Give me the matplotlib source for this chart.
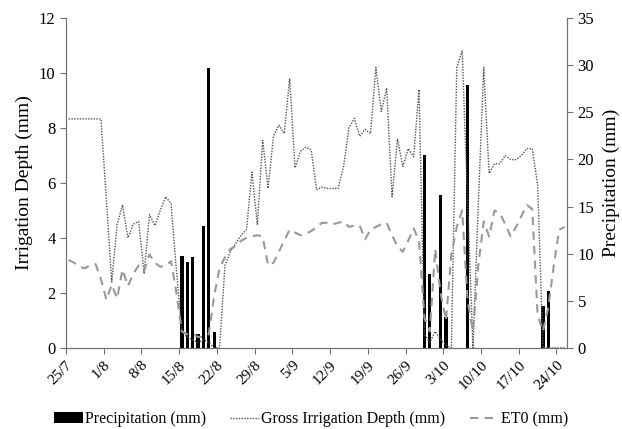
import matplotlib
matplotlib.use("Agg")
import matplotlib.pyplot as plt
import numpy as np

plt.rcParams['font.family'] = ['Liberation Serif', 'DejaVu Serif']

# daily series, 25/7 .. 25/10
irrigation = [
    8.33, 8.33, 8.33, 8.33, 8.33, 8.33, 8.33, 5.4, 2.4, 4.5,
    5.2, 4.0, 4.5, 4.6, 2.7, 4.85, 4.45, 5.0, 5.5, 5.25,
    2.8, 0.6, 0.4, 0.3, 0.2, 0.3, 0.2, 0.0, 0.0, 3.0,
    3.5, 3.8, 4.1, 4.3, 6.4, 4.5, 7.55, 5.8, 7.7, 8.1,
    7.8, 9.8, 6.55, 7.15, 7.3, 7.2, 5.75, 5.85, 5.8, 5.8,
    5.8, 6.6, 8.0, 8.35, 7.7, 7.95, 7.8, 10.2, 8.6, 9.45,
    5.5, 7.6, 6.6, 7.25, 6.95, 9.4, 0.5, 0.2, 0.6, 0.3,
    0.1, 0.0, 10.2, 10.8, 5.4, 0.0, 5.2, 10.2, 6.35, 6.7,
    6.7, 7.0, 6.85, 6.85, 7.0, 7.25, 7.25, 5.95, 0.0, 0.0,
    0.0, 0.0, 0.0,
]
et0 = [
    3.2, 3.1, 2.95, 2.9, 3.0, 3.05, 2.5, 1.75, 2.3, 1.8,
    2.85, 2.25, 2.7, 3.0, 2.8, 3.4, 3.1, 2.95, 3.0, 3.15,
    2.0, 0.6, 0.5, 0.5, 0.4, 0.4, 0.5, 1.9, 2.9, 3.3,
    3.6, 3.7, 3.9, 4.0, 4.05, 4.1, 4.05, 3.0, 3.1, 3.5,
    3.9, 4.3, 4.2, 4.1, 4.15, 4.25, 4.4, 4.55, 4.55, 4.5,
    4.55, 4.6, 4.4, 4.45, 4.45, 3.95, 4.3, 4.4, 4.5, 4.55,
    4.1, 3.7, 3.5, 3.9, 4.35, 3.9, 1.1, 0.6, 3.6, 2.0,
    1.0, 3.4, 4.4, 5.0, 1.75, 0.6, 3.0, 4.6, 4.05, 5.0,
    4.9, 4.5, 4.05, 4.4, 4.8, 5.2, 5.05, 1.2, 0.6, 1.5,
    3.0, 4.3, 4.4,
]
rain_days = [21, 22, 23, 24, 25, 26, 27, 66, 67, 69, 70, 74, 88, 89]
rain_mm = [9.8, 9.1, 9.6, 1.45, 12.9, 29.7, 1.7, 20.5, 7.8, 16.2, 3.25, 27.9, 4.5, 6.0]

tick_days = [0, 7, 14, 21, 28, 35, 42, 49, 56, 63, 70, 77, 84, 91]
tick_labels = ['25/7', '1/8', '8/8', '15/8', '22/8', '29/8', '5/9', '12/9',
               '19/9', '26/9', '3/10', '10/10', '17/10', '24/10']

n_days = len(irrigation)
x = np.arange(n_days) + 0.5

fig = plt.figure(figsize=(6.22, 4.29), dpi=100)
ax1 = fig.add_axes([0.106, 0.189, 0.806, 0.769])
ax2 = ax1.twinx()

# precipitation bars on the right axis
bars = ax2.bar(np.array(rain_days) + 0.5, rain_mm, width=0.62, color='black',
               label='Precipitation (mm)')
ax2.set_ylim(0, 35)
ax2.set_yticks(np.arange(0, 36, 5))
ax2.set_ylabel('Precipitation (mm)', fontsize=14, labelpad=6)

# lines on the left axis, drawn above the bars
ax1.set_zorder(ax2.get_zorder() + 1)
ax1.patch.set_visible(False)
l_irr, = ax1.plot(x, irrigation, color='#555555', linestyle=(0, (1, 1)),
                  linewidth=1.0, label='Gross Irrigation Depth (mm)')
l_et, = ax1.plot(x, et0, color='#999999', linestyle=(0, (4, 3)),
                 linewidth=1.5, label='ET0 (mm)')
ax1.set_ylim(0, 12)
ax1.set_yticks(np.arange(0, 13, 2))
ax1.set_xlim(0, n_days)
ax1.set_xticks(tick_days)
ax1.set_xticklabels(tick_labels, rotation=45, ha='right', rotation_mode='anchor')
ax1.set_ylabel('Irrigation Depth (mm)', fontsize=14)

for ax in (ax1, ax2):
    ax.spines['top'].set_visible(False)
    for s in ('left', 'right', 'bottom'):
        ax.spines[s].set_color('#707070')
    ax.tick_params(direction='out', length=4, color='#707070', labelsize=12)
ax1.tick_params(axis='x', labelsize=11)

fig.legend([bars, l_irr, l_et],
           ['Precipitation (mm)', 'Gross Irrigation Depth (mm)', 'ET0 (mm)'],
           loc='lower center', bbox_to_anchor=(0.5, -0.03), ncol=3, frameon=False,
           fontsize=11.5, handlelength=1.8, columnspacing=1.5, handletextpad=0.15)

fig.savefig('out.png', dpi=100)
